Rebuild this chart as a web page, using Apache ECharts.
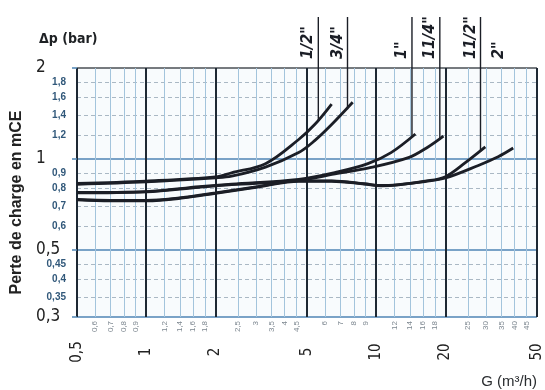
<!DOCTYPE html>
<html>
<head>
<meta charset="utf-8">
<style>
    html, body { margin: 0; padding: 0; background: #fff; }
    #chart { width: 545px; height: 390px; }
</style>
<script src="https://cdn.jsdelivr.net/npm/echarts@6/dist/echarts.min.js"></script>
</head>
<body>
<div id="chart"></div>
<script>
// 流量 G (m3/h) 与压降 Δp (bar)，按管径分别读取
var flowHalf = [0.5, 1, 2, 2.35, 3.3, 4.6, 5.4, 6.4],
    lossHalf = [0.83, 0.845, 0.872, 0.9, 0.965, 1.16, 1.3, 1.52],
    flow34 = [0.5, 1, 2, 2.35, 3.3, 4.6, 5.4, 6.4, 7.9],
    loss34 = [0.825, 0.84, 0.866, 0.877, 0.94, 1.05, 1.15, 1.3, 1.54],
    flow1 = [0.5, 1, 1.7, 2.35, 4.6, 6.8, 9.2, 11.6, 14.8],
    loss1 = [0.775, 0.78, 0.81, 0.826, 0.856, 0.906, 0.965, 1.05, 1.21],
    flow114 = [0.5, 1, 1.7, 2.35, 4.6, 6.8, 9.2, 13.8, 16.8, 19.6],
    loss114 = [0.772, 0.778, 0.806, 0.822, 0.85, 0.896, 0.932, 1.01, 1.096, 1.19],
    flow112 = [0.5, 0.7, 1, 1.45, 2, 3.1, 4.6, 6.4, 8.9, 10.5, 12.5, 16.3, 20, 24.4, 29.8],
    loss112 = [0.733, 0.727, 0.727, 0.743, 0.77, 0.809, 0.844, 0.844, 0.826, 0.815, 0.821, 0.844, 0.874, 0.972, 1.096],
    flow2 = [0.5, 0.7, 1, 1.45, 2, 3.1, 4.6, 6.4, 8.9, 10.5, 12.5, 16.3, 20, 27.8, 33.9, 39.4],
    loss2 = [0.735, 0.73, 0.73, 0.746, 0.772, 0.812, 0.846, 0.846, 0.828, 0.817, 0.823, 0.842, 0.865, 0.952, 1.017, 1.087];

var sizeLabels = ['1/2"', '3/4"', '1"', '11/4"', '11/2"', '2"'],
    // 引线与曲线相交处
    leaderFlow = [5.6, 7.5, 14.3, 18.9, 28.4],
    leaderLoss = [1.34, 1.46, 1.19, 1.16, 1.06];

// 刻度
var majorFlowTicks = [0.5, 1, 2, 5, 10, 20, 50],
    minorFlowTicks = [0.6, 0.7, 0.8, 0.9, 1.2, 1.4, 1.6, 1.8, 2.5, 3, 3.5, 4, 4.5,
        6, 7, 8, 9, 12, 14, 16, 18, 25, 30, 35, 40, 45],
    majorLossTicks = [0.3, 0.5, 1, 2],
    minorLossTicks = [0.35, 0.4, 0.45, 0.6, 0.7, 0.8, 0.9, 1.2, 1.4, 1.6, 1.8];

(function () {

    'use strict';

    var ink = '#1b1e26',
        curves = [
            [flowHalf, lossHalf],
            [flow34, loss34],
            [flow1, loss1],
            [flow114, loss114],
            [flow112, loss112],
            [flow2, loss2]
        ],
        myChart = echarts.init(document.getElementById('chart'));

    function comma(v) {
        return String(v).replace('.', ',');
    }

    function pairs(xs, ys) {
        return xs.map(function (x, i) {
            return [x, ys[i]];
        });
    }

    var option = {
        animation: false,
        backgroundColor: '#fff',
        title: [{
            text: 'Δp (bar)',
            left: 34,
            top: 27,
            textStyle: { fontSize: 14, fontWeight: 'bold', color: '#1e2124', fontFamily: 'DejaVu Sans Condensed' }
        }, {
            text: 'G (m³/h)',
            right: 3,
            top: 369,
            textStyle: { fontSize: 15, fontWeight: 'normal', color: '#2a2d30', fontFamily: 'Liberation Sans' }
        }],
        grid: {
            left: 77,
            right: 8,
            top: 68,
            bottom: 73,
            show: true,
            backgroundColor: '#f8fbfd',
            borderWidth: 0
        },
        xAxis: [{
            // 次刻度
            type: 'log',
            min: 0.5,
            max: 50,
            axisLine: { show: false },
            axisTick: { show: false, customValues: minorFlowTicks },
            axisLabel: {
                customValues: minorFlowTicks,
                rotate: 90,
                fontSize: 8,
                margin: 4,
                color: '#7d8790',
                formatter: comma
            },
            splitLine: { show: true, lineStyle: { color: '#a3c4dc', width: 1 } }
        }, {
            // 主刻度
            type: 'log',
            min: 0.5,
            max: 50,
            position: 'bottom',
            axisLine: { show: false },
            axisTick: { show: false, customValues: majorFlowTicks },
            axisLabel: {
                customValues: majorFlowTicks,
                rotate: 90,
                align: 'center',
                fontSize: 15,
                margin: 35,
                color: '#222',
                fontFamily: 'DejaVu Sans Condensed',
                formatter: comma
            },
            splitLine: { show: true, lineStyle: { color: '#1d2833', width: 2 } }
        }],
        yAxis: [{
            type: 'log',
            min: 0.3,
            max: 2,
            name: 'Perte de charge en mCE',
            nameLocation: 'middle',
            nameGap: 52,
            nameTextStyle: {
                fontSize: 16,
                fontWeight: 'bold',
                color: '#222',
                fontFamily: 'Liberation Sans',
                padding: [0, 20, 0, 0]
            },
            axisLine: { show: false },
            axisTick: { show: false, customValues: minorLossTicks },
            axisLabel: {
                customValues: minorLossTicks,
                fontSize: 10,
                fontWeight: 'bold',
                margin: 11,
                color: '#31587a',
                formatter: comma
            },
            splitLine: { show: true, lineStyle: { color: '#aab8c4', width: 1, type: [4, 3] } }
        }, {
            type: 'log',
            min: 0.3,
            max: 2,
            position: 'left',
            axisLine: { show: false },
            axisTick: {
                show: true,
                length: 5,
                customValues: majorLossTicks,
                lineStyle: { color: '#4f85b4', width: 1.5 }
            },
            axisLabel: {
                customValues: majorLossTicks,
                align: 'left',
                fontSize: 17,
                margin: 41,
                color: '#222',
                fontFamily: 'DejaVu Sans Condensed',
                formatter: comma
            },
            splitLine: {
                show: true,
                lineStyle: { color: ['#4f85b4', '#4f85b4', '#4f85b4', '#4a4f55'], width: 1.6 }
            }
        }],
        series: curves.map(function (c, i) {
            return {
                name: sizeLabels[i],
                type: 'line',
                xAxisIndex: 0,
                yAxisIndex: 0,
                smooth: 0.35,
                symbol: 'none',
                lineStyle: { color: ink, width: 2.8 },
                data: pairs(c[0], c[1])
            };
        })
    };

    myChart.setOption(option);

    /**
     * 管径标注与引线
     */
    var finder = { xAxisIndex: 0, yAxisIndex: 0 },
        topPx = myChart.convertToPixel(finder, [1, 2])[1],
        graphics = [];

    function sizeText(x, text) {
        return {
            type: 'text',
            x: x,
            y: topPx - 9,
            rotation: Math.PI / 2,
            style: {
                text: text,
                fill: ink,
                fontSize: 16,
                fontWeight: 'bold',
                fontStyle: 'italic',
                fontFamily: 'DejaVu Sans Condensed',
                align: 'left',
                verticalAlign: 'bottom',
                textAlign: 'left',
                textVerticalAlign: 'bottom'
            }
        };
    }

    leaderFlow.forEach(function (g, i) {
        var p = myChart.convertToPixel(finder, [g, leaderLoss[i]]);
        graphics.push({
            type: 'line',
            shape: { x1: p[0], y1: p[1], x2: p[0], y2: topPx - 51 },
            style: { stroke: ink, lineWidth: 1.4 }
        });
        graphics.push(sizeText(p[0] - 2, sizeLabels[i]));
    });

    // 2" 无引线，标在曲线末端上方
    var endPx = myChart.convertToPixel(finder, [flow2[flow2.length - 1], loss2[loss2.length - 1]]);
    graphics.push(sizeText(endPx[0] - 6, sizeLabels[5]));

    myChart.setOption({ graphic: graphics });
})();
</script>
</body>
</html>
